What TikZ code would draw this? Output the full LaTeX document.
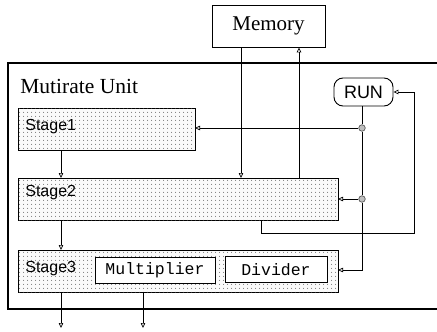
\documentclass[tikz,border=0pt]{standalone}
\usepackage{fontspec}
\setmainfont{Liberation Serif}
\setsansfont{Liberation Sans}
\setmonofont{Liberation Mono}
\usetikzlibrary{arrows.meta,patterns.meta,positioning}
\begin{document}
\begin{tikzpicture}[x=1pt,y=-1pt,
  line width=0.7pt,
  arr/.style={-{Triangle[open,length=5pt,width=4.5pt]}},
  stagebox/.style={draw,line width=0.9pt,fill=gray!4,
    postaction={pattern={Dots[distance=4pt,radius=0.6pt]},pattern color=gray!60!black}},
  inbox/.style={draw,line width=0.9pt,fill=white,minimum height=26pt,inner sep=0pt,
    font=\ttfamily\fontsize{16.5}{18}\selectfont},
  junc/.style={circle,draw=gray!70!black,fill=gray!50,inner sep=0pt,minimum size=6.5pt},
  lbl/.style={font=\sffamily\fontsize{16}{18}\selectfont,anchor=west,inner sep=0pt}]
\useasboundingbox (0,0) rectangle (437,332);
% outer unit
\draw[line width=1.1pt] (437,63) -- (8,63) -- (8,309) -- (437,309);
\node[anchor=base west,inner sep=0pt,font=\fontsize{21.5}{24}\selectfont] (unit) at (20,93) {Mutirate Unit};
% memory
\node[draw,line width=0.9pt,minimum width=113pt,minimum height=42pt,inner sep=0pt,
  font=\fontsize{21}{24}\selectfont] (mem) at (268.5,26) {Memory};
% stages
\path[stagebox] (18,108) rectangle (195,150);
\path[stagebox] (18,178) rectangle (338,220);
\path[stagebox] (18,250) rectangle (338,292);
\node[lbl] (st1) at (25,127) {Stage1};
\node[lbl] (st2) at (25,193) {Stage2};
\node[lbl] (st3) at (25,269) {Stage3};
\node[inbox,minimum width=120pt] (mul) at (155,270.5) {Multiplier};
\node[inbox,minimum width=102pt] (div) at (276,269.5) {Divider};
% run
\node[draw,line width=0.9pt,rounded corners=9pt,minimum width=59pt,minimum height=28pt,inner sep=0pt,
  font=\sffamily\fontsize{18}{20}\selectfont] (run) at (363.5,92) {RUN};
% coordinates
\coordinate (s1b) at (61,150);
\coordinate (s2t) at (61,178);
\coordinate (s2b) at (61,220);
\coordinate (s3t) at (61,250);
\coordinate (s3b) at (61,292);
\coordinate (o1) at (61,328);
\coordinate (m3b) at (143,292);
\coordinate (o2) at (143,328);
\coordinate (s1r) at (195,128);
\coordinate (s2r) at (338,199);
\coordinate (s3r) at (338,270);
\coordinate (memin) at (241,178);
\coordinate (memout) at (299,178);
\node[junc] (j1) at (362,128) {};
\node[junc] (j2) at (362,199) {};
\coordinate (c3) at (362,270);
\coordinate (fb0) at (261,220);
\coordinate (fb1) at (261,233);
\coordinate (fb2) at (414,233);
\coordinate (fb3) at (414,92);
% connectors
\draw[arr] (s1b) -- (s2t);
\draw[arr] (s2b) -- (s3t);
\draw[arr] (s3b) -- (o1);
\draw[arr] (m3b) -- (o2);
\draw[arr] (mem.south -| memin) -- (memin);
\draw[arr] (memout) -- (mem.south -| memout);
\draw (run.south -| j1) -- (j1);
\draw (j1) -- (j2);
\draw[arr] (j2) -- (c3) -- (s3r);
\draw[arr] (j1) -- (s1r);
\draw[arr] (j2) -- (s2r);
\draw[arr] (fb0) -- (fb1) -- (fb2) -- (fb3) -- (run.east);
\end{tikzpicture}
\end{document}
